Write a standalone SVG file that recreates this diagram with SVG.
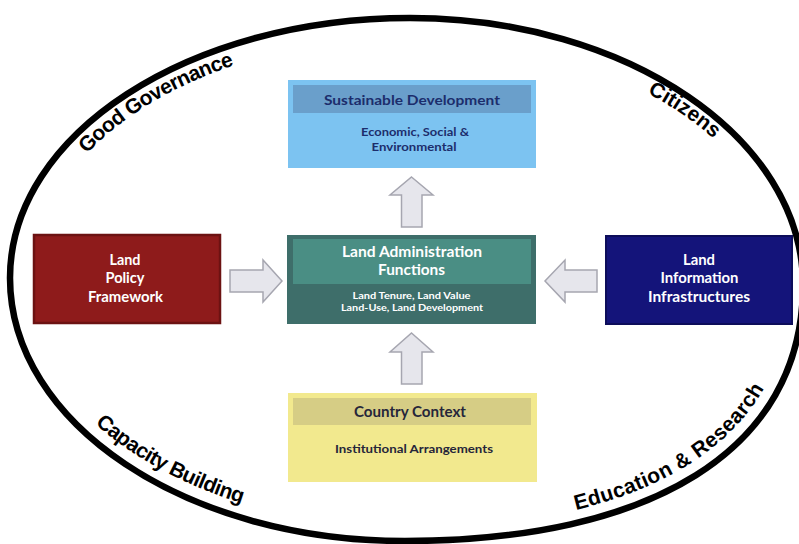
<svg xmlns="http://www.w3.org/2000/svg" width="799" height="544" viewBox="0 0 799 544">
<style>
.ring{fill:none;stroke:#000;stroke-width:6.5}
.ringtxt{font-family:"Liberation Sans",Arial,sans-serif;font-weight:bold;font-size:21px;fill:#000}
.bt{font-family:Lato,"Open Sans",sans-serif;font-weight:700;text-anchor:middle}
.w{fill:#fff}
.navy{fill:#1c2d6c}
.dark{fill:#26263a}
.arrow{fill:#e6e6ec;stroke:#a6a6b0;stroke-width:1.5;stroke-linejoin:miter}
</style>
<defs>
<path id="topArc" d="M 32 279 A 376 241 0 0 1 784 279"/>
<path id="blArc" d="M 22 278 A 393 251 0 0 0 808 278"/>
<path id="brArc" d="M 405 528 C 640 528 790 445 790 285"/>
</defs>
<rect width="799" height="544" fill="#fff"/>
<g id="ring">
<path class="ring" d="M 10 278 C 10 134 189 18 410 18 C 627 18 803 138 803 285 C 803 451 650 541 405 541 C 185 541 10 423 10 278 Z"/>
<text class="ringtxt" letter-spacing="-0.6"><textPath href="#topArc" startOffset="140">Good Governance</textPath></text>
<text class="ringtxt"><textPath href="#topArc" startOffset="738">Citizens</textPath></text>
<text class="ringtxt" letter-spacing="-0.6"><textPath href="#blArc" startOffset="168">Capacity Building</textPath></text>
<text class="ringtxt" letter-spacing="0.4"><textPath href="#brArc" startOffset="172">Education &amp; Research</textPath></text>
</g>
<g id="connectors">
<polygon class="arrow" points="411.5,177 433,195 422,195 422,227 401.5,227 401.5,195 390,195"/>
<polygon class="arrow" points="411.5,333 433,352 422,352 422,384 401.5,384 401.5,352 390,352"/>
<polygon class="arrow" points="230,270 263,270 263,260 282,281 263,302 263,292 230,292"/>
<polygon class="arrow" points="597,270 565,270 565,260 545,281 565,302 565,292 597,292"/>
</g>
<g id="sustainable">
<rect x="288" y="80" width="248" height="88" fill="#7cc3f1"/>
<rect x="293" y="85" width="238" height="28" fill="#6a9fcb"/>
<text class="bt navy" x="412" y="104.5" font-size="14" textLength="176" lengthAdjust="spacingAndGlyphs">Sustainable Development</text>
<text class="bt navy" x="415" y="136" font-size="11.5" textLength="108" lengthAdjust="spacingAndGlyphs">Economic, Social &amp;</text>
<text class="bt navy" x="414" y="150.5" font-size="11.5" textLength="85" lengthAdjust="spacingAndGlyphs">Environmental</text>
</g>
<g id="admin">
<rect x="287" y="235" width="249" height="89" fill="#3e6e6a"/>
<rect x="293" y="239" width="238" height="45" fill="#4a8e84"/>
<text class="bt w" x="412" y="257" font-size="14.5" textLength="140" lengthAdjust="spacingAndGlyphs">Land Administration</text>
<text class="bt w" x="411.5" y="275" font-size="14.5" textLength="67" lengthAdjust="spacingAndGlyphs">Functions</text>
<text class="bt w" x="411.5" y="298.5" font-size="10" textLength="118" lengthAdjust="spacingAndGlyphs">Land Tenure, Land Value</text>
<text class="bt w" x="412" y="311" font-size="10" textLength="142" lengthAdjust="spacingAndGlyphs">Land-Use, Land Development</text>
</g>
<g id="policy">
<rect x="34" y="235" width="186" height="88" fill="#8e1b1b" stroke="#6c1212" stroke-width="2.5"/>
<text class="bt w" x="125" y="264.5" font-size="15" textLength="31" lengthAdjust="spacingAndGlyphs">Land</text>
<text class="bt w" x="125" y="283" font-size="15" textLength="39" lengthAdjust="spacingAndGlyphs">Policy</text>
<text class="bt w" x="125.5" y="301.5" font-size="15" textLength="75" lengthAdjust="spacingAndGlyphs">Framework</text>
</g>
<g id="info">
<rect x="606" y="236" width="186" height="88" fill="#14147a" stroke="#0d0d5a" stroke-width="2"/>
<text class="bt w" x="699" y="264.5" font-size="15" textLength="32" lengthAdjust="spacingAndGlyphs">Land</text>
<text class="bt w" x="699.5" y="283" font-size="15" textLength="78" lengthAdjust="spacingAndGlyphs">Information</text>
<text class="bt w" x="699" y="302" font-size="15" textLength="102" lengthAdjust="spacingAndGlyphs">Infrastructures</text>
</g>
<g id="country">
<rect x="288" y="393" width="249" height="89" fill="#f2e98e"/>
<rect x="293" y="398" width="238" height="27" fill="#d6cd85"/>
<text class="bt dark" x="410" y="416.5" font-size="14.5" textLength="112" lengthAdjust="spacingAndGlyphs">Country Context</text>
<text class="bt dark" x="414" y="453" font-size="11.5" textLength="158" lengthAdjust="spacingAndGlyphs">Institutional Arrangements</text>
</g>
</svg>
